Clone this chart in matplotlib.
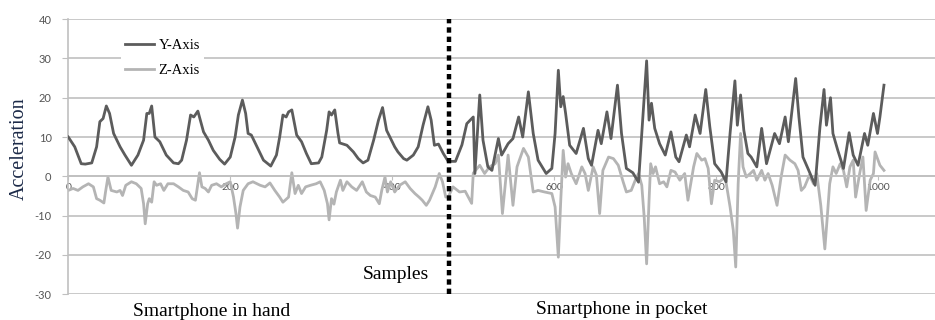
import numpy as np
import matplotlib
matplotlib.use("Agg")
import matplotlib.pyplot as plt

plt.rcParams["axes.unicode_minus"] = False

# Y-Axis acceleration (sample index, value)
y_samples = [0, 8, 16, 21, 29, 35, 39, 43, 47, 51, 56, 64, 70, 78, 86, 93, 97, 100, 103, 107,
             113, 121, 130, 136, 140, 146, 151, 155, 160, 167, 173, 179, 187, 193, 200, 206, 210,
             215, 219, 222, 226, 233, 241, 250, 257, 261, 265, 269, 272, 276, 282, 288, 294, 300,
             309, 313, 319, 322, 325, 329, 333, 335, 344, 352, 358, 364, 370, 377, 383, 388, 393,
             399, 403, 407, 414, 418, 426, 432, 438, 444, 448, 452, 457, 463, 469, 478, 486, 492,
             500, 502, 508, 512, 518, 523, 531, 535, 543, 549, 556, 561, 568, 574, 580, 590, 597,
             601, 605, 608, 611, 614, 619, 627, 636, 642, 646, 654, 658, 665, 670, 678, 683, 689,
             697, 704, 710, 714, 717, 720, 724, 730, 737, 744, 750, 754, 763, 767, 774, 780, 787,
             792, 798, 806, 812, 817, 823, 826, 830, 834, 839, 843, 850, 856, 862, 872, 878, 885,
             889, 898, 902, 907, 915, 922, 928, 933, 936, 941, 944, 950, 957, 964, 969, 975, 983,
             987, 994, 999, 1002, 1007]
y_values = [10.0, 7.5, 3.2, 3.1, 3.4, 7.5, 13.9, 14.7, 17.9, 16.0, 10.9, 7.5, 5.4, 2.8, 5.4, 9.2,
            16.0, 16.0, 17.9, 10.0, 8.8, 5.4, 3.4, 3.2, 4.1, 9.2, 15.6, 15.1, 16.6, 11.3, 9.2, 6.6,
            4.3, 3.1, 4.9, 10.0, 15.6, 19.4, 16.0, 10.9, 10.5, 7.5, 4.1, 2.6, 5.4, 10.0, 15.6, 15.1,
            16.4, 16.9, 10.5, 8.8, 5.8, 3.2, 3.4, 4.9, 11.7, 16.4, 15.6, 16.9, 10.9, 8.5, 7.9, 6.2,
            4.5, 3.4, 4.1, 9.2, 14.3, 17.5, 11.7, 9.2, 7.5, 6.2, 4.5, 4.1, 5.4, 7.5, 13.0, 17.7,
            14.3, 7.9, 8.2, 5.8, 3.8, 3.8, 8.0, 13.4, 15.1, 0.7, 20.7, 9.2, 2.4, 1.5, 9.6, 5.4, 8.3,
            9.6, 15.1, 10.0, 21.5, 10.9, 4.1, 0.7, 2.0, 10.9, 27.0, 17.7, 20.3, 16.0, 7.9, 5.8, 12.2,
            4.5, 2.8, 11.7, 8.3, 16.4, 9.6, 23.2, 10.9, 2.0, 0.9, -1.5, 16.9, 29.4, 14.3, 18.6,
            12.2, 8.3, 5.4, 11.3, 4.9, 3.7, 10.5, 7.5, 15.6, 10.9, 22.1, 12.6, 3.2, 1.1, -1.4, 10.9,
            24.3, 13.0, 20.7, 11.7, 5.8, 4.9, 2.4, 12.2, 3.2, 10.9, 8.3, 15.1, 8.8, 24.9, 15.1, 4.9,
            1.1, -2.3, 12.6, 22.1, 13.0, 20.0, 10.9, 6.6, 2.0, 11.1, 5.4, 2.8, 10.9, 7.9, 16.0,
            10.9, 15.1, 23.2]

# Z-Axis acceleration
z_samples = [0, 6, 12, 18, 25, 31, 35, 39, 44, 46, 49, 53, 60, 64, 67, 71, 78, 84, 90, 93, 95,
             98, 100, 103, 106, 109, 114, 118, 123, 130, 136, 142, 148, 153, 157, 162, 165, 169,
             173, 177, 183, 189, 195, 200, 204, 207, 209, 212, 216, 222, 228, 237, 243, 249, 255,
             261, 265, 272, 276, 280, 284, 288, 293, 299, 306, 311, 316, 320, 322, 325, 328, 331,
             336, 339, 344, 350, 356, 363, 368, 373, 379, 384, 387, 391, 394, 398, 403, 409, 416,
             422, 428, 433, 437, 442, 446, 453, 458, 462, 466, 469, 475, 483, 490, 498, 500, 508,
             514, 520, 527, 531, 536, 543, 549, 554, 562, 568, 574, 580, 588, 597, 601, 605, 608,
             611, 614, 617, 621, 627, 634, 638, 642, 648, 652, 656, 660, 667, 673, 679, 685, 689,
             695, 700, 704, 708, 711, 714, 717, 719, 722, 725, 730, 735, 739, 744, 749, 755, 761,
             765, 772, 776, 782, 786, 790, 794, 798, 804, 811, 817, 821, 824, 827, 830, 833, 837,
             842, 846, 850, 856, 860, 864, 869, 875, 880, 885, 891, 897, 901, 905, 909, 915, 920,
             924, 929, 934, 937, 940, 944, 948, 953, 957, 961, 965, 969, 972, 977, 981, 985, 990,
             994, 996, 1002, 1007]
z_values = [-3.6, -3.1, -3.6, -2.7, -1.9, -2.7, -5.7, -6.1, -6.8, -4.0, -0.2, -3.6, -4.0, -3.6,
            -4.9, -2.3, -1.4, -1.9, -3.1, -7.0, -12.1, -7.0, -5.7, -6.6, -1.4, -2.3, -1.9, -3.6,
            -1.9, -1.9, -2.7, -3.6, -4.0, -5.7, -6.1, 0.9, -2.7, -3.1, -4.0, -2.3, -1.9, -2.7, -1.9,
            -1.4, -5.3, -9.5, -13.2, -7.8, -3.6, -1.9, -1.4, -2.3, -2.7, -1.7, -3.6, -5.3, -6.6,
            -5.3, 0.9, -4.4, -2.3, -4.4, -2.7, -2.3, -1.9, -1.4, -3.6, -7.0, -11.1, -5.7, -7.1,
            -4.0, -1.0, -3.6, -1.4, -2.7, -3.6, -1.4, -4.0, -4.9, -5.3, -7.0, -3.6, -0.2, -4.0,
            -1.4, -4.0, -2.3, -1.4, -3.1, -4.4, -5.3, -6.1, -7.4, -6.1, -2.7, 0.7, -1.4, -5.3, -5.3,
            -2.7, -4.0, -3.8, -6.9, 0.8, 2.8, 0.7, 2.4, 3.2, 5.4, -9.5, 5.4, -7.4, 2.4, 7.1, 4.9,
            -4.0, -3.6, -4.0, -4.4, -7.8, -20.6, -6.1, 6.6, -0.2, 3.2, 0.7, -1.9, 2.4, 0.7, -3.6,
            2.4, 0.3, -9.5, 1.5, 4.9, 4.5, 2.8, -1.4, -4.0, -3.6, -1.0, 0.7, -2.3, -10.4, -22.3,
            -6.1, 3.2, 0.7, 2.4, -1.9, -1.4, -2.7, 1.5, 1.1, -1.0, 0.7, -6.1, 2.4, 5.8, 4.1, 4.5,
            2.0, -7.0, -1.0, -1.4, -0.2, -7.8, -13.8, -23.1, -1.9, 10.9, 2.4, -0.2, 0.7, 1.5, -1.0,
            1.5, -1.0, 0.7, -2.3, -7.4, -0.2, 5.4, 4.1, 3.2, 1.5, -3.6, -2.7, 0.3, -1.9, 0.7, -7.4,
            -18.5, -10.4, -1.9, 2.4, 0.7, 3.2, 1.5, -2.7, 2.4, 4.1, -5.3, 0.7, 4.9, -8.7, -1.0, 0.7,
            6.2, 2.8, 1.5]

x_ticks = [0, 200, 400, 600, 800, 1000]
y_ticks = [-30, -20, -10, 0, 10, 20, 30, 40]
split_sample = 470

fig = plt.figure(figsize=(9.35, 3.2), dpi=100)
ax = fig.add_axes([0.073, 0.081, 0.927, 0.859])

grid_col = "#c0c0c0"
for v in y_ticks:
    ax.axhline(v, color=grid_col, linewidth=1.2, zorder=0)

ax.plot(z_samples, z_values, color="#b4b4b4", linewidth=2.0, label="Z-Axis", zorder=2)
ax.plot(y_samples, y_values, color="#5c5c5c", linewidth=2.0, label="Y-Axis", zorder=3)

ax.axvline(split_sample, color="black", linewidth=3.2, linestyle=(0, (1.2, 0.9)), zorder=5)

ax.set_xlim(0, 1070)
ax.set_ylim(-30, 40)

for s in ["top", "right"]:
    ax.spines[s].set_visible(False)
ax.spines["left"].set_color(grid_col)
ax.spines["left"].set_linewidth(1.2)
ax.spines["bottom"].set_position(("data", 0))
ax.spines["bottom"].set_color(grid_col)
ax.spines["bottom"].set_linewidth(1.2)

ax.set_xticks(x_ticks)
ax.set_yticks(y_ticks)
ax.tick_params(axis="x", length=3, color=grid_col, labelsize=7.5, labelcolor="#555555", pad=2)
ax.tick_params(axis="y", length=4, color=grid_col, labelsize=8, labelcolor="#555555", pad=8)
for lab in ax.get_xticklabels() + ax.get_yticklabels():
    lab.set_family(["Lato", "DejaVu Sans"])

serif = ["Liberation Serif", "DejaVu Serif"]
ax.set_ylabel("Acceleration", fontsize=14.5, family=serif, color="#1c2a48")
ax.yaxis.set_label_coords(-0.046, 0.53)

handles, labels = ax.get_legend_handles_labels()
leg = ax.legend(handles[::-1], labels[::-1], loc="upper left", bbox_to_anchor=(0.052, 0.97),
                frameon=True, facecolor="white", edgecolor="none", framealpha=1,
                prop={"family": serif, "size": 10.5}, handlelength=2.0, handletextpad=0.3,
                labelspacing=0.8, borderpad=0.3)

ax.text(404, -25, "Samples", fontsize=14, family=serif, ha="center", va="center")
fig.text(212 / 935, 1 - 311 / 320, "Smartphone in hand", fontsize=14, family=serif,
         ha="center", va="center")
fig.text(622 / 935, 1 - 310 / 320, "Smartphone in pocket", fontsize=14, family=serif,
         ha="center", va="center")

fig.savefig("out.png", dpi=100)
